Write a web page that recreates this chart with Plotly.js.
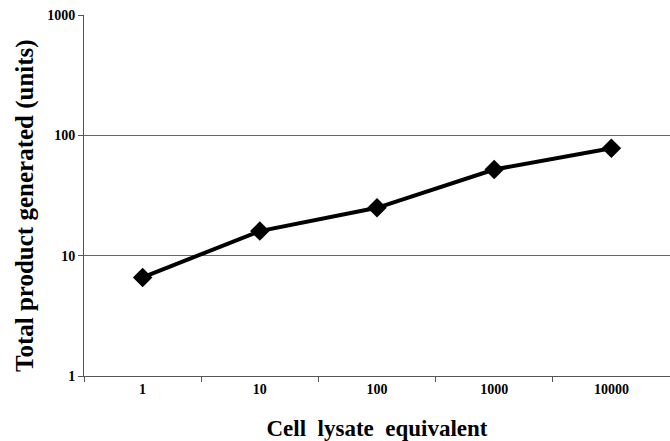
<!DOCTYPE html>
<html>
<head>
<meta charset="utf-8">
<script src="https://cdn.plot.ly/plotly-3.0.1.min.js"></script>
<style>html,body{margin:0;padding:0;background:#fff;}#chart{width:670px;height:441px;}</style>
</head>
<body>
<div id="chart"></div>
<script>
var categories = ["1", "10", "100", "1000", "10000"];
var productUnits = [6.6, 16, 25, 52, 78];
var yTickVals = [1, 10, 100, 1000];
var yTickText = ["1", "10", "100", "1000"];
var xTitle = "Cell\u00a0 lysate\u00a0 equivalent";
var yTitle = "Total product generated (units)";

var font = "Liberation Serif, Times New Roman, serif";
var trace = {
  x: categories,
  y: productUnits,
  type: "scatter",
  mode: "lines+markers",
  line: {color: "#000", width: 4},
  marker: {symbol: "diamond", size: 15, color: "#000"},
  cliponaxis: false,
  showlegend: false
};
var layout = {
  width: 670, height: 441,
  margin: {l: 84, r: 0, t: 15, b: 65},
  paper_bgcolor: "#fff", plot_bgcolor: "#fff",
  font: {family: font, color: "#000"},
  xaxis: {
    type: "category",
    range: [-0.5, 4.5],
    tickson: "boundaries",
    ticks: "outside", ticklen: 5, tickcolor: "#555", tickwidth: 1,
    showline: true, linecolor: "#555", linewidth: 1,
    showgrid: false, zeroline: false,
    tickfont: {family: font, size: 14, weight: "bold", color: "#000"},
    title: {text: xTitle, font: {family: font, size: 23, weight: "bold", color: "#000"}, standoff: 24}
  },
  yaxis: {
    type: "log",
    range: [0, 3],
    tickvals: yTickVals, ticktext: yTickText,
    ticks: "outside", ticklen: 5, tickcolor: "#555", tickwidth: 1,
    showline: true, linecolor: "#555", linewidth: 1,
    showgrid: true, gridcolor: "#666", gridwidth: 1,
    zeroline: false,
    tickfont: {family: font, size: 14, weight: "bold", color: "#000"}
  },
  annotations: [{
    text: yTitle,
    xref: "paper", yref: "paper",
    x: -0.1007, y: 0.4737,
    xanchor: "center", yanchor: "middle",
    textangle: -90, showarrow: false,
    font: {family: font, size: 25, weight: "bold", color: "#000"}
  }]
};
Plotly.newPlot("chart", [trace], layout, {displayModeBar: false, staticPlot: true});
</script>
</body>
</html>
